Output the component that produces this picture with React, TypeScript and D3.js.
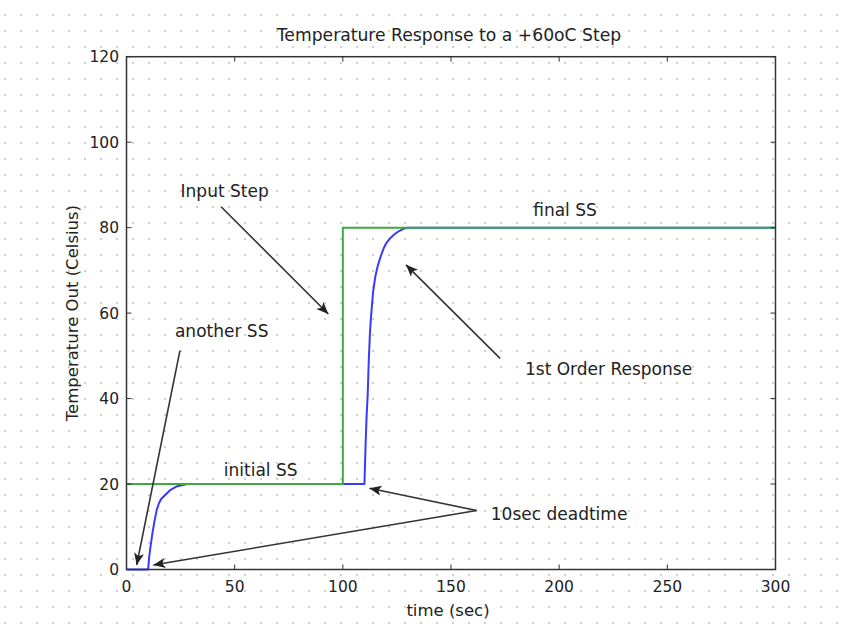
import * as d3 from 'd3';

// input step (green)
const stepT = [0, 100, 100, 300];
const stepV = [20, 20, 80, 80];

// first order response with 10 sec deadtime (blue)
const respT = [0, 10, 10.5, 11, 12, 13, 14, 15, 16, 18, 20, 23, 28, 110, 110.5, 111, 111.5, 112, 112.5, 113, 113.5, 114, 115, 116, 117, 118, 119, 120, 122, 124, 126, 128, 130, 300];
const respV = [0, 0, 3, 5, 8.5, 11.5, 14, 15.5, 16.5, 17.5, 18.5, 19.4, 20, 20, 29, 36, 41, 49, 55, 59, 62, 65, 68.5, 70.8, 72.5, 74, 75.3, 76.3, 77.6, 78.5, 79.2, 79.7, 80, 80];

const xTicks = [0, 50, 100, 150, 200, 250, 300];
const yTicks = [0, 20, 40, 60, 80, 100, 120];

// annotation labels, in data units
const labelText = ['Input Step', 'final SS', '1st Order Response', 'another SS', 'initial SS', '10sec deadtime'];
const labelT = [25, 188, 184.2, 22.4, 45, 168.4];
const labelV = [87.2, 82.7, 45.5, 54.3, 21.9, 11.7];

// arrows: from (t0,v0) to tip (t1,v1)
const arrowFrom = [[43.7, 84.9], [172.7, 49.4], [24.7, 51.2], [161.9, 13.8], [161.9, 13.8]];
const arrowTo = [[93.3, 59.8], [129.2, 71.3], [4.7, 1.05], [112.3, 19.0], [12.4, 1.05]];

const W = 851;
const H = 636;
const font = 'DejaVu Sans, sans-serif';

export default function App() {
  const x = d3.scaleLinear().domain([0, 300]).range([126.5, 775.5]);
  const y = d3.scaleLinear().domain([0, 120]).range([569.5, 56.7]);

  const line = d3.line<[number, number]>().x(d => x(d[0])).y(d => y(d[1]));
  const stepPts = stepT.map((t, i) => [t, stepV[i]] as [number, number]);
  const respPts = respT.map((t, i) => [t, respV[i]] as [number, number]);

  const [x0, x1] = x.range();
  const [y0, y1] = y.range();

  return (
    <svg width={W} height={H} style={{ position: 'absolute', left: 0, top: 0, background: '#fff' }}>
      <defs>
        <pattern id="dots" width={16} height={16} patternUnits="userSpaceOnUse">
          <circle cx={5} cy={15} r={0.9} fill="#b8b8b8" />
        </pattern>
        <marker id="head" viewBox="0 0 12 10" refX={12} refY={5} markerWidth={13} markerHeight={10}
          markerUnits="userSpaceOnUse" orient="auto">
          <path d="M0,0 L12,5 L0,10 L3,5 Z" fill="#222" />
        </marker>
      </defs>
      <rect width={W} height={H} fill="url(#dots)" />

      <text x={449} y={41} textAnchor="middle" fontFamily={font} fontSize={17.2} fill="#222">
        Temperature Response to a +60oC Step
      </text>

      {/* data */}
      <path d={line(respPts) ?? ''} fill="none" stroke="#3a3aff" strokeWidth={2} strokeLinejoin="round" />
      <path d={line(stepPts) ?? ''} fill="none" stroke="#3faa3f" strokeWidth={2} />

      {/* box + ticks */}
      <rect x={x0} y={y1} width={x1 - x0} height={y0 - y1} fill="none" stroke="#333" strokeWidth={1.5} />
      {xTicks.map(t => (
        <g key={'x' + t}>
          <line x1={x(t)} x2={x(t)} y1={y0} y2={y0 - 5} stroke="#333" />
          <line x1={x(t)} x2={x(t)} y1={y1} y2={y1 + 5} stroke="#333" />
          <text x={x(t)} y={592} textAnchor="middle" fontFamily={font} fontSize={15.5} fill="#222">{t}</text>
        </g>
      ))}
      {yTicks.map(v => (
        <g key={'y' + v}>
          <line x1={x0} x2={x0 + 5} y1={y(v)} y2={y(v)} stroke="#333" />
          <line x1={x1} x2={x1 - 5} y1={y(v)} y2={y(v)} stroke="#333" />
          <text x={119} y={y(v)} dy="0.36em" textAnchor="end" fontFamily={font} fontSize={15.5} fill="#222">{v}</text>
        </g>
      ))}

      <text x={448} y={616} textAnchor="middle" fontFamily={font} fontSize={16.5} fill="#222">time (sec)</text>
      <text transform={`translate(78,${(y0 + y1) / 2}) rotate(-90)`} textAnchor="middle" fontFamily={font}
        fontSize={16.5} fill="#222">Temperature Out (Celsius)</text>

      {/* annotations */}
      {arrowFrom.map((a, i) => (
        <line key={'a' + i} x1={x(a[0])} y1={y(a[1])} x2={x(arrowTo[i][0])} y2={y(arrowTo[i][1])}
          stroke="#333" strokeWidth={1.6} markerEnd="url(#head)" />
      ))}
      {labelText.map((s, i) => (
        <text key={'l' + i} x={x(labelT[i])} y={y(labelV[i])} fontFamily={font} fontSize={17} fill="#222">{s}</text>
      ))}
    </svg>
  );
}
